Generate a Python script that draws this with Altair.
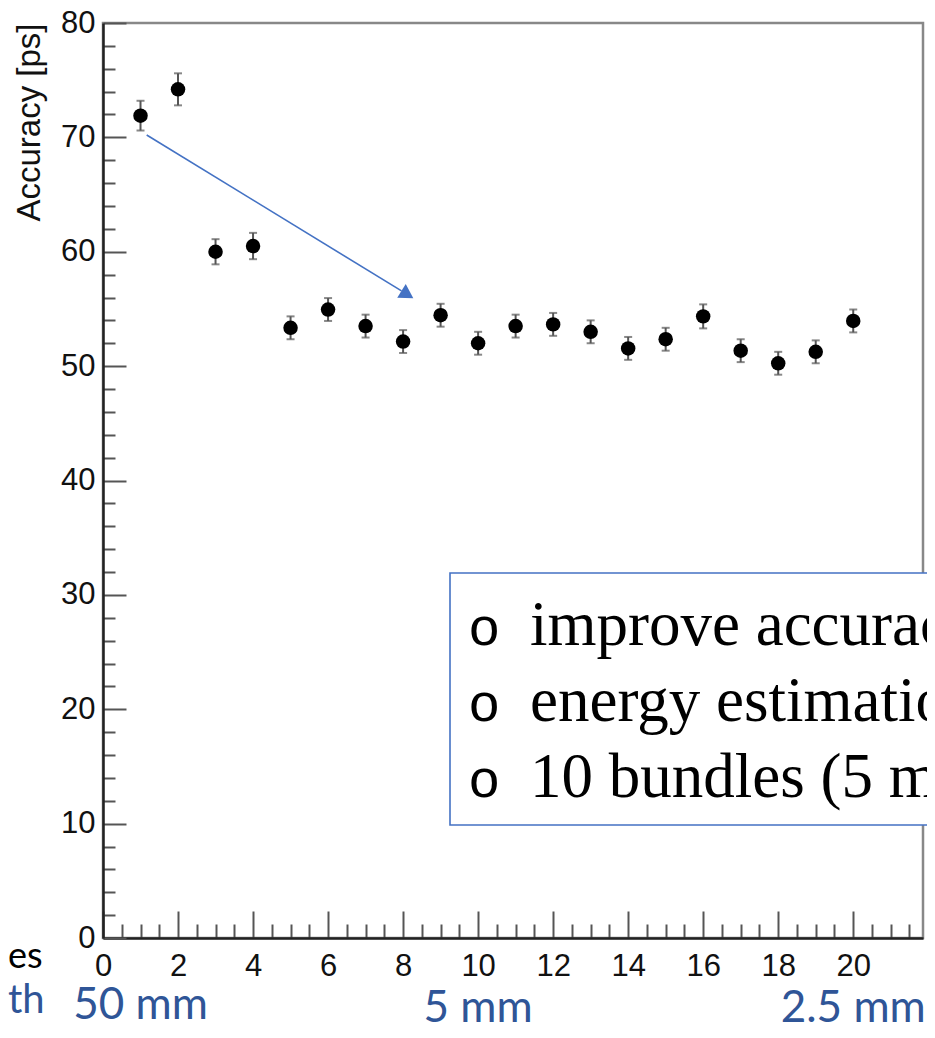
import altair as alt
import pandas as pd

# ---- data ----
bundles = list(range(1, 21))
accuracy = [71.9, 74.2, 60.0, 60.5, 53.35, 54.95, 53.5, 52.15, 54.45, 52.0,
            53.5, 53.65, 53.0, 51.55, 52.35, 54.35, 51.35, 50.25, 51.25, 53.95]
errors = [1.3, 1.4, 1.1, 1.15, 1.0, 1.0, 1.0, 1.0, 1.0, 1.0,
          1.0, 1.0, 1.0, 1.0, 1.0, 1.05, 1.0, 1.0, 1.0, 1.0]

x_major = list(range(0, 21, 2))
x_minor = [v / 2 for v in range(0, 44) if v % 4 != 0]
y_major = list(range(0, 81, 10))
y_minor = [v for v in range(0, 81, 2) if v % 10 != 0]

width_bundles = [1, 10, 20]
width_labels = ["50 mm", "5 mm", "2.5 mm"]
box_lines = ["improve accuracy", "energy estimation", "10 bundles (5 mm)"]

df = pd.DataFrame({"n": bundles, "acc": accuracy, "err": errors})
df["lo"] = df["acc"] - df["err"]
df["hi"] = df["acc"] + df["err"]

X_DOMAIN = [0, 21.86]
Y_DOMAIN = [0, 80]
xs = alt.Scale(domain=X_DOMAIN, nice=False, zero=False)
ys = alt.Scale(domain=Y_DOMAIN, nice=False, zero=False)

BLUE = "#4472C4"
TXT_BLUE = "#2F5597"
TICK = "#555555"

one = pd.DataFrame({"a": [0]})


def axis_layer(xaxis, yaxis):
    return alt.Chart(df).mark_point(opacity=0).encode(
        x=alt.X("n:Q", scale=xs, axis=xaxis),
        y=alt.Y("acc:Q", scale=ys, axis=yaxis),
    )


common = dict(grid=False, title=None, labels=False, domain=False,
              tickColor=TICK, tickWidth=2)

major_axes = axis_layer(
    alt.Axis(orient="bottom", values=x_major, offset=-27, tickSize=27, **common),
    alt.Axis(orient="left", values=y_major, offset=-23, tickSize=23, **common),
)
minor_axes = axis_layer(
    alt.Axis(orient="bottom", values=x_minor, offset=-14, tickSize=14, **common),
    alt.Axis(orient="left", values=y_minor, offset=-12, tickSize=12, **common),
)
label_axes = axis_layer(
    alt.Axis(orient="bottom", values=x_major, ticks=False, tickSize=0, grid=False,
             domain=True, domainColor="#222222", domainWidth=2.5,
             labelPadding=13, labelFontSize=31, labelFont="Liberation Sans",
             labelColor="#111111", labelFlush=False, labelOverlap=False,
             format="d", title=None),
    alt.Axis(orient="left", values=y_major, ticks=False, tickSize=0, grid=False,
             domain=True, domainColor="#222222", domainWidth=2.5,
             labelPadding=8, labelFontSize=31, labelFont="Liberation Sans",
             labelColor="#111111", labelFlush=False, labelOverlap=False,
             format="d", title="Accuracy [ps]", titleFont="Liberation Sans",
             titleFontSize=33, titleFontWeight="normal", titleColor="#111111",
             titleAngle=-90, titleAlign="right", titleBaseline="middle",
             titleX=-74, titleY=0),
)

bars = alt.Chart(df).mark_rule(color=TICK, strokeWidth=2).encode(
    x=alt.X("n:Q", scale=xs, axis=None),
    y=alt.Y("lo:Q", scale=ys, axis=None),
    y2="hi:Q",
)
cap_hi = alt.Chart(df).mark_tick(color=TICK, orient="horizontal", size=8, thickness=2).encode(
    x=alt.X("n:Q", scale=xs, axis=None),
    y=alt.Y("hi:Q", scale=ys, axis=None),
)
cap_lo = alt.Chart(df).mark_tick(color=TICK, orient="horizontal", size=8, thickness=2).encode(
    x=alt.X("n:Q", scale=xs, axis=None),
    y=alt.Y("lo:Q", scale=ys, axis=None),
)
points = alt.Chart(df).mark_circle(size=210, color="black", opacity=1).encode(
    x=alt.X("n:Q", scale=xs, axis=None),
    y=alt.Y("acc:Q", scale=ys, axis=None),
)

arrow_line = alt.Chart(one).mark_rule(color=BLUE, strokeWidth=1.6).encode(
    x=alt.value(43.7), y=alt.value(112), x2=alt.value(298.5), y2=alt.value(267.9)
)
arrow_head = alt.Chart(one).mark_point(
    shape="triangle-right", filled=True, color=BLUE, opacity=1, size=260, angle=32
).encode(x=alt.value(304.4), y=alt.value(271.6))

box = alt.Chart(one).mark_rect(fill="white", stroke=BLUE, strokeWidth=1.6).encode(
    x=alt.value(347), x2=alt.value(900), y=alt.value(550), y2=alt.value(802)
)

layers = [major_axes, minor_axes, label_axes, bars, cap_hi, cap_lo, points,
          arrow_line, arrow_head, box]

for i, line in enumerate(box_lines):
    base_y = 622 + i * 76
    layers.append(
        alt.Chart(one).mark_text(text="o", font="Liberation Mono", fontSize=54,
                                 align="left", baseline="alphabetic", color="black")
        .encode(x=alt.value(365), y=alt.value(base_y))
    )
    layers.append(
        alt.Chart(one).mark_text(text=line, font="Liberation Serif", fontSize=63,
                                 align="left", baseline="alphabetic", color="black")
        .encode(x=alt.value(427), y=alt.value(base_y))
    )

mm_y = [996, 999, 999]
for b, lab, yy in zip(width_bundles, width_labels, mm_y):
    layers.append(
        alt.Chart(pd.DataFrame({"n": [b], "t": [lab]}))
        .mark_text(font="Lato", fontSize=44, align="center", baseline="alphabetic",
                   color=TXT_BLUE)
        .encode(x=alt.X("n:Q", scale=xs, axis=None), y=alt.value(yy), text="t:N")
    )

layers.append(
    alt.Chart(one).mark_text(text="es", font="Lato", fontSize=36, align="left",
                             baseline="alphabetic", color="black")
    .encode(x=alt.value(-95), y=alt.value(945))
)
layers.append(
    alt.Chart(one).mark_text(text="th", font="Lato", fontSize=40, align="left",
                             baseline="alphabetic", color=TXT_BLUE)
    .encode(x=alt.value(-95), y=alt.value(990))
)

chart = (
    alt.layer(*layers)
    .resolve_axis(x="independent", y="independent")
    .properties(
        width=820, height=915,
        autosize=alt.AutoSizeParams(type="none"),
        padding={"left": 95, "top": 15, "right": 4, "bottom": 84},
        background="white",
    )
    .configure_view(stroke="#888888", strokeWidth=2.5)
)

chart.save("out.html", embed_options={"renderer": "svg", "actions": False})
